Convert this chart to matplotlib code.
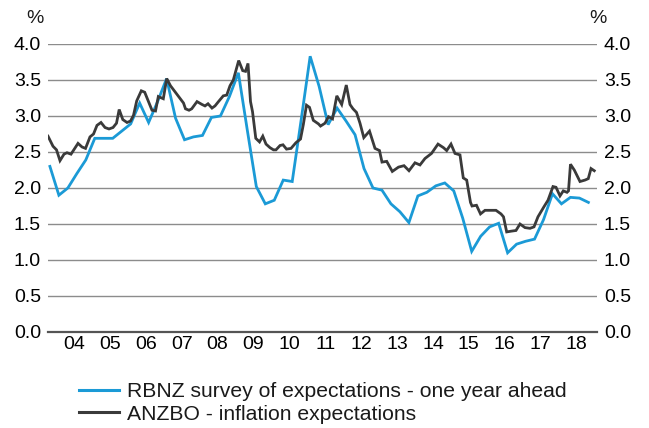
#!/usr/bin/env python3

import matplotlib as mpl
mpl.use("Agg")
mpl.rcParams.update({
    "font.family": ["Liberation Sans", "DejaVu Sans"],
    "font.size": 14,
    "text.color": "#1a1a1a",
})
import matplotlib.pyplot as plt
from matplotlib.lines import Line2D


# RBNZ survey of expectations (one year ahead), quarterly from Q4 2003
rbnz_start = 2003.83
rbnz = [2.30, 1.90, 2.00, 2.20, 2.39, 2.69, 2.69, 2.69, 2.79, 2.89,
        3.18, 2.91, 3.20, 3.52, 2.97, 2.67, 2.71, 2.73, 2.98, 3.00,
        3.27, 3.60, 2.80, 2.02, 1.78, 1.83, 2.11, 2.09, 2.95, 3.83,
        3.41, 2.88, 3.11, 2.93, 2.74, 2.27, 2.00, 1.97, 1.78, 1.67,
        1.52, 1.89, 1.94, 2.03, 2.07, 1.96, 1.58, 1.12, 1.33, 1.46,
        1.51, 1.10, 1.22, 1.26, 1.29, 1.56, 1.92, 1.78, 1.87, 1.86,
        1.80]

# ANZBO inflation expectations as (decimal year, %)
anzbo_dates = [
    2003.777, 2003.916, 2004.014, 2004.111, 2004.223, 2004.306, 2004.418, 2004.613, 2004.724, 2004.822,
    2004.947, 2005.045, 2005.142, 2005.253, 2005.365, 2005.476, 2005.588, 2005.685, 2005.760, 2005.861,
    2005.978, 2006.075, 2006.159, 2006.248, 2006.376, 2006.471, 2006.577, 2006.674, 2006.772, 2006.850,
    2006.989, 2007.084, 2007.189, 2007.370, 2007.552, 2007.607, 2007.705, 2007.780, 2007.928, 2008.067,
    2008.150, 2008.234, 2008.345, 2008.429, 2008.526, 2008.660, 2008.755, 2008.847, 2008.939, 2009.089,
    2009.201, 2009.279, 2009.348, 2009.418, 2009.474, 2009.565, 2009.669, 2009.760, 2009.850, 2009.961,
    2010.058, 2010.128, 2010.240, 2010.323, 2010.421, 2010.546, 2010.685, 2010.811, 2010.889, 2010.978,
    2011.061, 2011.167, 2011.312, 2011.368, 2011.493, 2011.591, 2011.702, 2011.822, 2011.958, 2012.086,
    2012.189, 2012.273, 2012.370, 2012.468, 2012.574, 2012.733, 2012.886, 2013.011, 2013.081, 2013.212,
    2013.368, 2013.540, 2013.694, 2013.833, 2014.000, 2014.139, 2014.279, 2014.460, 2014.641, 2014.794,
    2014.883, 2015.003, 2015.114, 2015.253, 2015.345, 2015.440, 2015.546, 2015.588, 2015.713, 2015.825,
    2015.950, 2016.089, 2016.256, 2016.396, 2016.465, 2016.554, 2016.674, 2016.813, 2016.925, 2017.064,
    2017.203, 2017.315, 2017.426, 2017.593, 2017.705, 2017.844, 2017.928, 2018.039, 2018.131, 2018.234,
    2018.276, 2018.331, 2018.437, 2018.596, 2018.735, 2018.827, 2018.903, 2018.994,
]
anzbo = [
    2.72, 2.58, 2.53, 2.38, 2.47, 2.49, 2.47, 2.62, 2.57, 2.55,
    2.71, 2.75, 2.87, 2.91, 2.84, 2.82, 2.84, 2.90, 3.09, 2.95,
    2.91, 2.93, 3.01, 3.21, 3.35, 3.33, 3.20, 3.08, 3.07, 3.27,
    3.24, 3.52, 3.42, 3.30, 3.18, 3.10, 3.08, 3.10, 3.20, 3.16,
    3.14, 3.17, 3.11, 3.14, 3.20, 3.28, 3.29, 3.42, 3.50, 3.77,
    3.63, 3.62, 3.73, 3.20, 3.06, 2.69, 2.64, 2.72, 2.61, 2.56,
    2.53, 2.53, 2.59, 2.60, 2.54, 2.55, 2.63, 2.68, 2.88, 3.15,
    3.12, 2.94, 2.89, 2.86, 2.90, 2.99, 2.96, 3.28, 3.16, 3.43,
    3.16, 3.10, 3.05, 2.90, 2.70, 2.79, 2.55, 2.52, 2.36, 2.37,
    2.23, 2.29, 2.31, 2.24, 2.35, 2.32, 2.41, 2.48, 2.61, 2.56,
    2.52, 2.61, 2.48, 2.46, 2.14, 2.11, 1.80, 1.75, 1.76, 1.64,
    1.69, 1.69, 1.69, 1.64, 1.60, 1.39, 1.40, 1.41, 1.50, 1.45,
    1.44, 1.46, 1.60, 1.74, 1.83, 2.02, 2.01, 1.89, 1.96, 1.94,
    1.96, 2.33, 2.25, 2.09, 2.11, 2.13, 2.27, 2.24,
]

years = list(range(2004, 2019))
year_labels = ['04', '05', '06', '07', '08', '09', '10', '11',
               '12', '13', '14', '15', '16', '17', '18']
y_ticks = [0.0, 0.5, 1.0, 1.5, 2.0, 2.5, 3.0, 3.5, 4.0]
y_labels = ['%.1f' % v for v in y_ticks]

BLUE = '#1b9ad6'
DARK = '#3a3a3a'
GRID = '#8c8c8c'


def main():
    W, H = 649, 428
    fig = plt.figure(figsize=(W / 100, H / 100), dpi=100)
    ax = fig.add_axes([48 / W, 1 - 332 / H, 549 / W, 288 / H])

    rbnz_dates = [rbnz_start + 0.25 * i for i in range(len(rbnz))]
    ax.plot(rbnz_dates, rbnz, color=BLUE, lw=2.0, solid_joinstyle='miter')
    ax.plot(anzbo_dates, anzbo, color=DARK, lw=2.0, solid_joinstyle='miter')

    for v in y_ticks[1:]:
        ax.axhline(v, color=GRID, lw=1.0, zorder=0)
    ax.axhline(0, color='#555555', lw=1.6, zorder=0, clip_on=False)

    ax.set_xlim(2003.777, 2019.07)
    ax.set_ylim(0, 4.0)
    for s in ax.spines.values():
        s.set_visible(False)

    ax.set_yticks(y_ticks)
    ax.set_yticklabels(y_labels)
    ax.tick_params(axis='y', length=0, pad=5, labelright=True, labelsize=14)
    ax.set_xticks([y + 0.5 for y in years])
    ax.set_xticklabels(year_labels)
    ax.tick_params(axis='x', length=0, pad=3, labelsize=14)

    fig.text(34.5 / W, 1 - 18.5 / H, '%', ha='center', va='center', fontsize=14)
    fig.text(597.5 / W, 1 - 18.5 / H, '%', ha='center', va='center', fontsize=14)

    handles = [Line2D([], [], color=BLUE, lw=2.2),
               Line2D([], [], color=DARK, lw=2.2)]
    labels = ['RBNZ survey of expectations - one year ahead',
              'ANZBO - inflation expectations']
    fig.legend(handles, labels, loc='upper left',
               bbox_to_anchor=(79 / W, 1 - 382 / H), frameon=False,
               fontsize=15.2, borderpad=0, borderaxespad=0,
               handlelength=1.9, handletextpad=0.36, labelspacing=0.18)

    fig.savefig('out.png', dpi=100)


if __name__ == '__main__':
    main()
